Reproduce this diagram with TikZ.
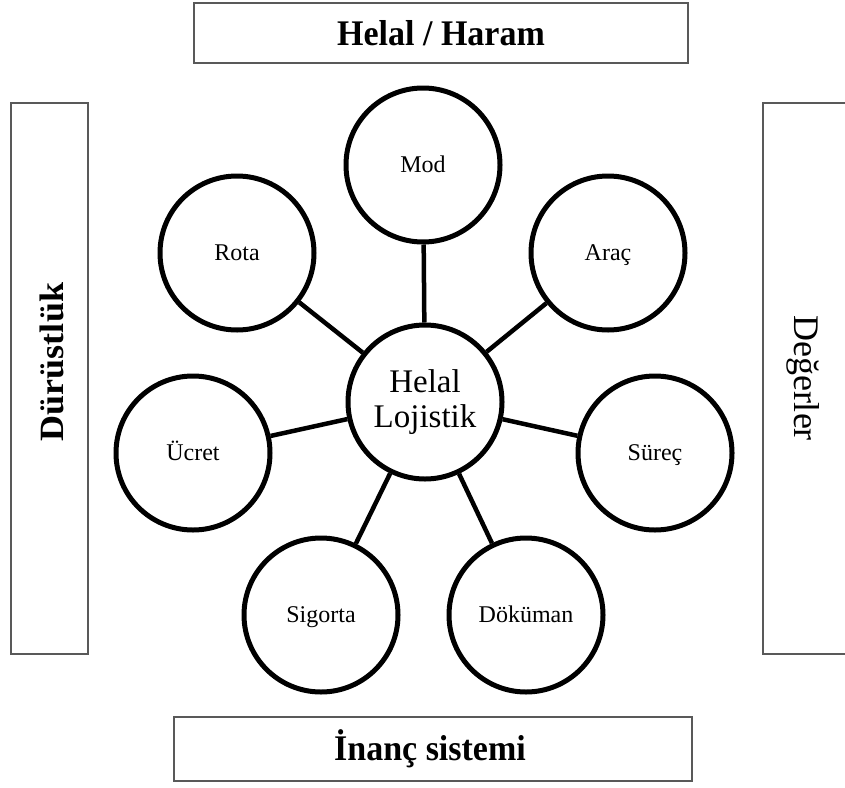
\documentclass[tikz,border=0pt]{standalone}
\usepackage{fontspec}
\setmainfont{Liberation Serif}
\begin{document}
\begin{tikzpicture}[x=1pt,y=-1pt,
  bubble/.style={circle, draw=black, line width=5pt, minimum size=154pt, inner sep=0pt, text height=20pt, text depth=5pt, font=\fontsize{24}{26}\selectfont},
  hubnode/.style={circle, draw=black, line width=5pt, minimum size=154pt, inner sep=0pt, align=center, font=\fontsize{33}{35}\selectfont},
  conn/.style={draw=black, line width=4.5pt},
  frame/.style={draw=black!65, line width=2pt},
  boxlabel/.style={font=\bfseries\fontsize{34}{36}\selectfont, yscale=1.06}]
\useasboundingbox (0,0) rectangle (845,787);
\clip (0,0) rectangle (845,787);
% outer frames
\draw[frame] (194,3) rectangle (688,63);
\node[boxlabel] (top) at (441,33) {Helal / Haram};
\draw[frame] (174,717) rectangle (692,781);
\node[boxlabel] (bottom) at (430,749) {İnanç sistemi};
\draw[frame] (11,103) rectangle (88,654);
\node[boxlabel, rotate=90] (left) at (52,362) {Dürüstlük};
\draw[frame] (763,103) rectangle (860,654);
\node[font=\fontsize{36}{38}\selectfont, rotate=-90] (right) at (803,378) {Değerler};
% bubbles
\node[hubnode] (hub) at (425,402) {Helal\\Lojistik};
\node[bubble] (mod) at (423,165) {Mod};
\node[bubble] (rota) at (237,253) {Rota};
\node[bubble] (arac) at (608,253) {Araç};
\node[bubble] (ucret) at (193,453) {Ücret};
\node[bubble] (surec) at (655,453) {Süreç};
\node[bubble] (sigorta) at (321,615) {Sigorta};
\node[bubble] (dokuman) at (526,615) {Döküman};
% connectors
\foreach \n in {mod,rota,arac,ucret,surec,sigorta,dokuman}
  \draw[conn] (hub) -- (\n);
\end{tikzpicture}
\end{document}
